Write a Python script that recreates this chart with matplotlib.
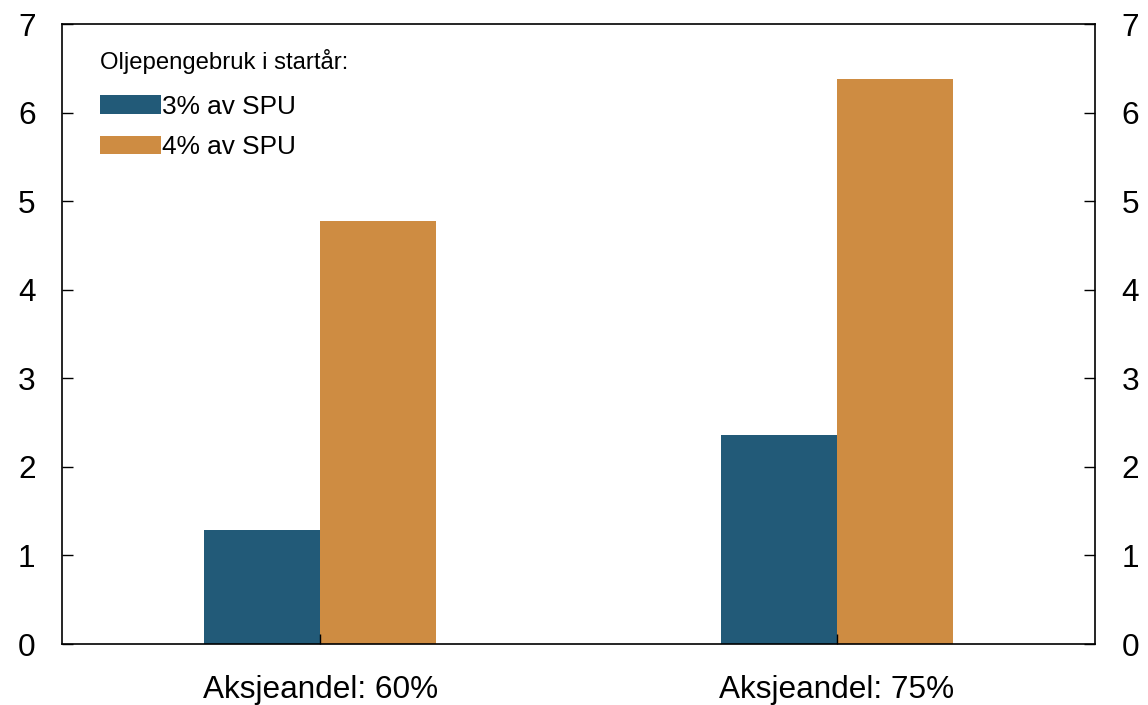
import matplotlib
matplotlib.use("Agg")
import matplotlib.pyplot as plt
from matplotlib.patches import Patch
import numpy as np

plt.rcParams['font.family'] = ['Liberation Sans', 'DejaVu Sans']

categories = ["Aksjeandel: 60%", "Aksjeandel: 75%"]
series_names = ["3% av SPU", "4% av SPU"]
values_3 = [1.29, 2.36]
values_4 = [4.78, 6.38]
colors = ["#225A78", "#CE8C42"]
legend_title = "Oljepengebruk i startår:"
yticks = [0, 1, 2, 3, 4, 5, 6, 7]

W, H = 1148, 705
fig = plt.figure(figsize=(W / 100, H / 100), dpi=100)
ax = fig.add_axes([62 / W, (H - 644) / H, 1033 / W, 620 / H])

x = np.arange(len(categories))
bw = 0.225
ax.bar(x - bw / 2, values_3, width=bw, color=colors[0], label=series_names[0])
ax.bar(x + bw / 2, values_4, width=bw, color=colors[1], label=series_names[1])

ax.set_xlim(-0.5, 1.5)
ax.set_ylim(0, 7)
ax.set_yticks(yticks)
ax.set_xticks(x)
ax.set_xticklabels(categories, fontsize=22.7)

ax.tick_params(axis='y', direction='in', length=8, width=1, labelsize=22.7,
               left=True, right=True, labelleft=True, labelright=True, pad=19)
ax.tick_params(axis='x', direction='in', length=7, width=1, pad=22)
for s in ax.spines.values():
    s.set_linewidth(1.2)
    s.set_color('black')

handles = [Patch(facecolor=colors[0]), Patch(facecolor=colors[1])]
leg = ax.legend(handles, series_names, title=legend_title, loc='upper left',
                bbox_to_anchor=(0.037, 0.960), frameon=False, fontsize=18.9,
                title_fontsize=17.2, handlelength=2.32, handleheight=0.69,
                handletextpad=0.05, labelspacing=0.62, alignment='left',
                borderaxespad=0, borderpad=0)
leg._legend_box.sep = 15

fig.savefig("out.png", dpi=100)
